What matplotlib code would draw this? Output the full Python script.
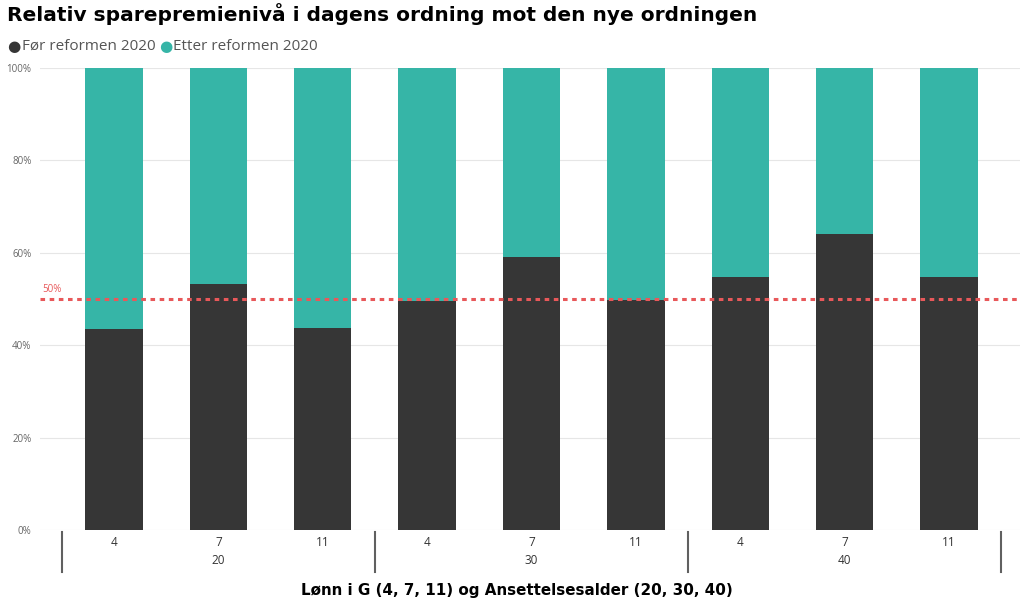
import matplotlib.pyplot as plt
import matplotlib.transforms as mtransforms
import numpy as np

# data
loenn = ["4", "7", "11", "4", "7", "11", "4", "7", "11"]
alder = ["20", "30", "40"]
foer = [43.5, 53.2, 43.7, 49.5, 59.1, 49.7, 54.8, 64.1, 54.8]
etter = [100 - v for v in foer]

dark = "#363636"
teal = "#36b5a7"
red = "#e8585a"

fig = plt.figure(figsize=(10.24, 6.04), dpi=100)
ax = fig.add_axes([0.039, 0.1225, 0.957, 0.765])

x = np.arange(len(foer))
ax.bar(x, foer, width=0.55, color=dark, zorder=2)
ax.bar(x, etter, width=0.55, bottom=foer, color=teal, zorder=2)

ax.set_ylim(0, 100)
ax.set_xlim(-0.71, 8.68)
ax.set_yticks([0, 20, 40, 60, 80, 100])
ax.set_yticklabels(["0%", "20%", "40%", "60%", "80%", "100%"], fontsize=7, color="#666666",
                   family="Open Sans")
ax.tick_params(axis="y", length=0, pad=6)
ax.set_xticks([])
ax.grid(axis="y", color="#e6e6e6", linewidth=0.8, zorder=0)
for s in ax.spines.values():
    s.set_visible(False)

# 50% reference line
ax.axhline(50, color=red, linestyle=(0, (1.5, 1.5)), linewidth=2.2, zorder=3)
ax.text(-0.69, 50.8, "50%", color=red, fontsize=7, family="Open Sans", va="bottom", ha="left")

# hierarchical x axis
trans = mtransforms.blended_transform_factory(ax.transData, ax.transAxes)
for i, lab in enumerate(loenn):
    ax.text(i, -0.028, lab, transform=trans, ha="center", va="center", fontsize=8.5,
            color="#333333", family="Open Sans")
for g, lab in enumerate(alder):
    ax.text(g * 3 + 1, -0.067, lab, transform=trans, ha="center", va="center", fontsize=8.5,
            color="#333333", family="Open Sans")
for xs in [-0.5, 2.5, 5.5, 8.5]:
    ax.plot([xs, xs], [-0.004, -0.091], transform=trans, color="#606060", linewidth=1.5,
            clip_on=False)

fig.text(0.505, 0.022, "Lønn i G (4, 7, 11) og Ansettelsesalder (20, 30, 40)", ha="center",
         va="center", fontsize=10.9, fontweight="bold", family="DejaVu Sans")

fig.text(0.007, 0.977, "Relativ sparepremienivå i dagens ordning mot den nye ordningen",
         ha="left", va="center", fontsize=14.5, fontweight="bold", family="DejaVu Sans")

# legend
fig.text(0.007, 0.923, "●", color=dark, fontsize=11, va="center", ha="left", family="DejaVu Sans")
fig.text(0.021, 0.923, "Før reformen 2020", color="#555555", fontsize=11, va="center",
         ha="left", family="Open Sans")
fig.text(0.155, 0.923, "●", color=teal, fontsize=11, va="center", ha="left", family="DejaVu Sans")
fig.text(0.169, 0.923, "Etter reformen 2020", color="#555555", fontsize=11, va="center",
         ha="left", family="Open Sans")

fig.savefig("out.png", dpi=100)
